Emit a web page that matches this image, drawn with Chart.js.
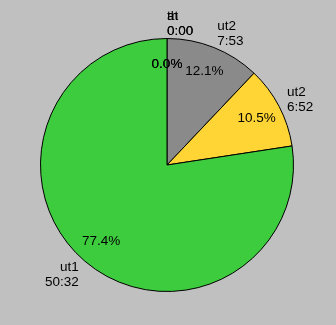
<!DOCTYPE html>
<html>
<head>
<meta charset="utf-8">
<script src="https://cdn.jsdelivr.net/npm/chart.js@4/dist/chart.umd.min.js"></script>
<style>
  html, body { margin: 0; padding: 0; background: #c0c0c0; }
  #wrap { width: 336px; height: 325px; }
</style>
</head>
<body>
<div id="wrap"><canvas id="pie"></canvas></div>
<script>
// --- data ---
const names = ['ut2', 'ut2', 'ut1', 'at', 'th'];
const times = ['7:53', '6:52', '50:32', '0:00', '0:00'];
const seconds = [473, 412, 3032, 0, 0];
const colors = ['#8a8a8a', '#fed535', '#3dcc3e', '#3dcc3e', '#3dcc3e'];

const FONT = '13.5px "Liberation Sans", Arial, sans-serif';
const LINE = 15;

// draws the percent inside and name/time outside each slice
const sliceLabels = {
    id: 'sliceLabels',
    afterDatasetsDraw(chart) {
        const ctx = chart.ctx;
        const meta = chart.getDatasetMeta(0);
        const total = seconds.reduce((a, b) => a + b, 0);
        ctx.save();
        ctx.font = FONT;
        ctx.fillStyle = '#000';
        meta.data.forEach((arc, i) => {
            const p = arc.getProps(['x', 'y', 'startAngle', 'endAngle', 'outerRadius'], true);
            const mid = (p.startAngle + p.endAngle) / 2;
            const c = Math.cos(mid), s = Math.sin(mid);

            // percent
            const pct = (seconds[i] / total * 100).toFixed(1) + '%';
            ctx.textAlign = 'center';
            ctx.textBaseline = 'middle';
            ctx.fillText(pct, p.x + p.outerRadius * 0.8 * c, p.y + p.outerRadius * 0.8 * s);

            // name + time outside
            const ax = p.x + (p.outerRadius + 9) * c;
            const ay = p.y + (p.outerRadius + 3) * s;
            const h = 26;
            const top = ay - h * (1 - s) / 2;
            ctx.textAlign = c < -0.01 ? 'right' : 'left';
            ctx.textBaseline = 'top';
            ctx.fillText(names[i], ax, top);
            ctx.fillText(times[i], ax, top + LINE);
        });
        ctx.restore();
    }
};

new Chart(document.getElementById('pie'), {
    type: 'pie',
    data: {
        labels: names,
        datasets: [{
            data: seconds,
            backgroundColor: colors,
            borderColor: '#000',
            borderWidth: 1
        }]
    },
    options: {
        responsive: true,
        maintainAspectRatio: false,
        animation: false,
        layout: { padding: { left: 40, right: 42, top: 38, bottom: 33 } },
        plugins: {
            legend: { display: false },
            tooltip: { enabled: false }
        }
    },
    plugins: [sliceLabels]
});
</script>
</body>
</html>
